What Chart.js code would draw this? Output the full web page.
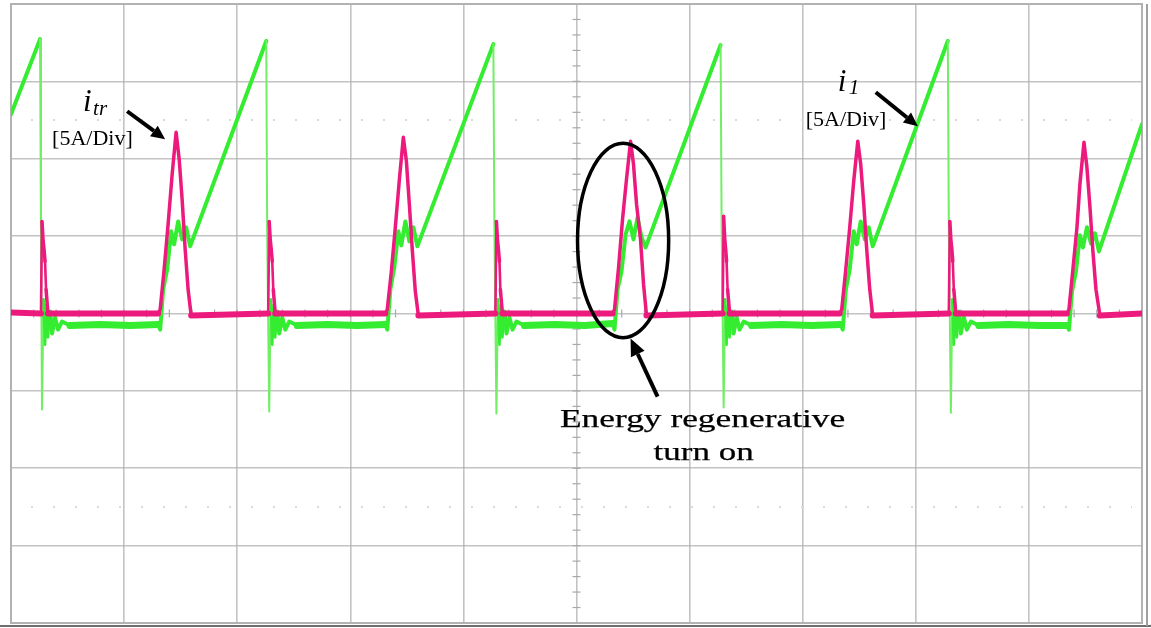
<!DOCTYPE html>
<html>
<head>
<meta charset="utf-8">
<script src="https://cdn.jsdelivr.net/npm/chart.js@4.4.0/dist/chart.umd.min.js"></script>
<style>
  html, body { margin: 0; padding: 0; background: #fff; }
  canvas { display: block; }
</style>
</head>
<body>
<canvas id="scope" width="1151" height="628"></canvas>
<script>
// i1 (green): time in divisions, current in A (5 A/div)
const i1Time = [
  0, 0.257,
  0.265, 0.274, 0.288, 0.301, 0.314, 0.327, 0.345, 0.363, 0.389, 0.416, 0.451, 0.522, 0.788, 1.053, 1.301,
  1.319, 1.345, 1.381, 1.416, 1.442, 1.478, 1.513, 1.549, 1.584, 2.257,
  2.265, 2.283, 2.296, 2.310, 2.323, 2.336, 2.354, 2.372, 2.398, 2.425, 2.460, 2.531, 2.796, 3.062, 3.310,
  3.327, 3.354, 3.389, 3.425, 3.451, 3.487, 3.522, 3.558, 3.593, 4.265,
  4.274, 4.292, 4.305, 4.319, 4.332, 4.345, 4.363, 4.381, 4.407, 4.434, 4.469, 4.540, 4.805, 5.071, 5.319,
  5.336, 5.363, 5.398, 5.434, 5.469, 5.504, 5.540, 5.575, 5.611, 6.274,
  6.283, 6.301, 6.314, 6.327, 6.341, 6.354, 6.372, 6.389, 6.416, 6.442, 6.478, 6.549, 6.814, 7.080, 7.336,
  7.354, 7.381, 7.416, 7.451, 7.478, 7.513, 7.549, 7.584, 7.619, 8.283,
  8.292, 8.310, 8.323, 8.336, 8.350, 8.363, 8.381, 8.398, 8.425, 8.451, 8.487, 8.558, 8.823, 9.088, 9.336,
  9.354, 9.381, 9.416, 9.451, 9.478, 9.513, 9.549, 9.584, 9.619, 10.0
];
const i1Amp = [
  12.88, 17.73,
  5.44, -6.21, 0.91, -2.01, 0.58, -1.55, 0.13, -1.29, -0.26, -1.04, -0.52, -0.78, -0.71, -0.78, -0.71,
  -1.04, 1.55, 2.85, 5.31, 4.47, 5.95, 4.79, 5.57, 4.34, 17.61,
  5.31, -6.34, 0.91, -2.01, 0.58, -1.55, 0.13, -1.29, -0.26, -1.04, -0.52, -0.78, -0.71, -0.78, -0.71,
  -1.04, 1.55, 2.98, 5.31, 4.40, 5.95, 4.66, 5.57, 4.34, 17.41,
  5.57, -6.47, 0.91, -2.01, 0.58, -1.55, 0.13, -1.29, -0.26, -1.04, -0.52, -0.78, -0.71, -0.78, -0.65,
  -1.04, 1.55, 2.72, 5.11, 5.95, 4.79, 6.21, 4.92, 4.27, 17.35,
  5.76, -6.08, 0.91, -2.01, 0.58, -1.55, 0.13, -1.29, -0.26, -1.04, -0.52, -0.78, -0.71, -0.78, -0.71,
  -1.04, 1.55, 2.85, 5.31, 4.47, 5.95, 4.79, 5.57, 4.34, 17.61,
  5.57, -6.41, 0.91, -2.01, 0.58, -1.55, 0.13, -1.29, -0.26, -1.04, -0.52, -0.78, -0.71, -0.78, -0.78,
  -1.04, 1.42, 2.72, 5.05, 4.27, 5.57, 4.53, 5.18, 4.01, 12.23
];

// itr (pink)
const itrTime = [
  0, 0.265, 0.274, 0.283, 0.292, 0.301, 0.310, 0.327,
  1.301, 1.319, 1.354, 1.389, 1.425, 1.460, 1.487, 1.513, 1.540, 1.566, 1.593,
  2.274, 2.283, 2.292, 2.301, 2.310, 2.319, 2.336,
  3.310, 3.327, 3.363, 3.398, 3.434, 3.469, 3.496, 3.522, 3.549, 3.575, 3.602,
  4.283, 4.292, 4.301, 4.310, 4.319, 4.327, 4.345,
  5.319, 5.336, 5.372, 5.407, 5.442, 5.478, 5.504, 5.531, 5.566, 5.593, 5.619,
  6.292, 6.301, 6.310, 6.319, 6.327, 6.336, 6.354,
  7.327, 7.345, 7.381, 7.416, 7.451, 7.487, 7.513, 7.540, 7.566, 7.593, 7.619,
  8.292, 8.301, 8.310, 8.319, 8.327, 8.336, 8.354,
  9.336, 9.354, 9.389, 9.425, 9.451, 9.487, 9.513, 9.540, 9.566, 9.593, 9.628, 10.0
];
const itrAmp = [
  0.06, 0, 5.95, 4.79, 4.14, 3.37, 1.55, 0,
  0, 0.26, 2.85, 5.76, 9.00, 11.72, 9.97, 7.38, 4.14, 1.55, -0.13,
  0, 5.95, 4.79, 4.14, 3.37, 1.55, 0,
  0, 0.26, 2.72, 5.57, 8.67, 11.39, 9.84, 7.06, 4.01, 1.42, -0.13,
  0, 5.95, 4.79, 4.14, 3.37, 1.55, 0,
  0, 0.26, 2.98, 6.08, 8.67, 11.13, 9.64, 7.06, 4.79, 1.88, -0.13,
  0, 6.28, 4.92, 4.14, 3.37, 1.55, 0,
  0, 0.26, 2.85, 5.57, 8.54, 11.13, 9.64, 7.06, 4.14, 1.55, -0.13,
  0, 5.95, 4.79, 4.14, 3.37, 1.55, 0,
  0, 0.26, 2.85, 5.57, 8.35, 11.07, 9.45, 6.86, 4.01, 1.55, -0.13, 0
];

const GREEN = 'rgb(52,236,48)';
const GREEN_EDGE = 'rgb(112,238,100)';
const PINK = 'rgb(236,26,124)';
const SERIF = '"Liberation Serif", "Times New Roman", serif';

// flat stretches are noisy on the scope, the big switching edges are thin
function traceWidth(normal, flat, edge) {
  return ctx => {
    const dx = Math.abs(ctx.p1.x - ctx.p0.x), dy = Math.abs(ctx.p1.y - ctx.p0.y);
    if (dx > 15 && dy < dx * 0.15) return flat;
    if (dx < 2.5 && dy > 100) return edge;
    if (dx < 2.5 && dy > 25) return 2.6;
    return normal;
  };
}

const scopeFrame = {
  id: 'scopeFrame',
  beforeDatasetsDraw(chart) {
    const { ctx, chartArea: a, scales: { x, y } } = chart;
    const cx = x.getPixelForValue(5), cy = y.getPixelForValue(0);
    ctx.save();
    // faint cursor dot rows
    ctx.strokeStyle = '#dadada';
    ctx.lineWidth = 2;
    ctx.setLineDash([2, 20]);
    [12.5, -12.5].forEach(v => {
      const py = y.getPixelForValue(v);
      ctx.beginPath(); ctx.moveTo(a.left + 20, py); ctx.lineTo(a.right - 10, py); ctx.stroke();
    });
    ctx.setLineDash([]);
    // minor ticks on the centre crosshair
    ctx.strokeStyle = '#a8a8a8';
    ctx.lineWidth = 1.2;
    for (let v = -20; v <= 20; v += 1) {
      const py = y.getPixelForValue(v);
      ctx.beginPath(); ctx.moveTo(cx - 4, py); ctx.lineTo(cx + 4, py); ctx.stroke();
    }
    for (let v = 0; v <= 10.001; v += 0.2) {
      const px = x.getPixelForValue(v);
      ctx.beginPath(); ctx.moveTo(px, cy - 4); ctx.lineTo(px, cy + 4); ctx.stroke();
    }
    // screen frame
    ctx.strokeStyle = '#b2b2b2';
    ctx.lineWidth = 2;
    ctx.strokeRect(a.left, a.top, a.right - a.left, a.bottom - a.top);
    ctx.strokeStyle = '#6e6e6e';
    ctx.beginPath(); ctx.moveTo(0, a.bottom + 3); ctx.lineTo(chart.width, a.bottom + 3); ctx.stroke();
    ctx.strokeStyle = '#a0a0a0';
    ctx.beginPath(); ctx.moveTo(a.right + 5, a.top); ctx.lineTo(a.right + 5, a.bottom + 3); ctx.stroke();
    ctx.restore();
  }
};

function arrow(ctx, x0, y0, x1, y1, head, half) {
  const ang = Math.atan2(y1 - y0, x1 - x0);
  const bx = x1 - head * Math.cos(ang), by = y1 - head * Math.sin(ang);
  ctx.lineWidth = 4;
  ctx.beginPath(); ctx.moveTo(x0, y0); ctx.lineTo(bx, by); ctx.stroke();
  ctx.beginPath();
  ctx.moveTo(x1, y1);
  ctx.lineTo(bx + half * Math.sin(ang), by - half * Math.cos(ang));
  ctx.lineTo(bx - half * Math.sin(ang), by + half * Math.cos(ang));
  ctx.closePath(); ctx.fill();
}

function label(ctx, str, px, py, font) {
  ctx.font = font;
  ctx.fillText(str, px, py);
}

// the caption is set wide, so stretch it to its measured width
function wideText(ctx, str, px, py, font, width) {
  ctx.save();
  ctx.font = font;
  const sx = width / ctx.measureText(str).width;
  ctx.translate(px, py); ctx.scale(sx, 1);
  ctx.textAlign = 'center';
  ctx.lineWidth = 0.25;
  ctx.fillText(str, 0, 0);
  ctx.strokeText(str, 0, 0);
  ctx.restore();
}

const notes = {
  id: 'notes',
  afterDatasetsDraw(chart) {
    const { ctx, scales: { x, y } } = chart;
    const X = v => x.getPixelForValue(v), Y = v => y.getPixelForValue(v);
    ctx.save();
    ctx.fillStyle = '#000';
    ctx.strokeStyle = '#000';
    ctx.textBaseline = 'alphabetic';

    // itr label
    label(ctx, 'i', X(0.637), Y(13.07), 'italic 31px ' + SERIF);
    label(ctx, 'tr', X(0.726), Y(12.82), 'italic 21px ' + SERIF);
    label(ctx, '[5A/Div]', X(0.363), Y(10.87), '22px ' + SERIF);
    arrow(ctx, X(1.027), Y(13.07), X(1.363), Y(11.26), 14, 6.5);

    // i1 label
    label(ctx, 'i', X(7.310), Y(14.37), 'italic 31px ' + SERIF);
    label(ctx, '1', X(7.407), Y(14.17), 'italic 21px ' + SERIF);
    label(ctx, '[5A/Div]', X(7.027), Y(12.10), '22px ' + SERIF);
    arrow(ctx, X(7.646), Y(14.30), X(8.018), Y(12.10), 14, 6.5);

    // regenerative turn-on marker
    ctx.lineWidth = 3.5;
    ctx.beginPath();
    ctx.ellipse(X(5.412), Y(4.72), X(5.815) - X(5.412), Y(-1.56) - Y(4.72), 0, 0, Math.PI * 2);
    ctx.stroke();
    arrow(ctx, X(5.717), Y(-5.37), X(5.478), Y(-1.62), 17, 7.5);
    wideText(ctx, 'Energy regenerative', X(6.115), Y(-7.31), '25px ' + SERIF, X(2.522) - X(0));
    wideText(ctx, 'turn on', X(6.124), Y(-9.45), '25px ' + SERIF, X(0.885) - X(0));
    ctx.restore();
  }
};

const gridStyle = { color: 'rgba(175,175,175,0.75)', lineWidth: 1.6, drawTicks: false };

new Chart(document.getElementById('scope'), {
  type: 'line',
  data: {
    datasets: [
      {
        label: 'itr',
        data: itrTime.map((t, k) => ({ x: t, y: itrAmp[k] })),
        borderColor: PINK,
        borderWidth: 3.5,
        borderCapStyle: 'round',
        borderJoinStyle: 'round',
        pointRadius: 0,
        tension: 0,
        order: 0,
        segment: { borderWidth: traceWidth(3.5, 6, 2.6) }
      },
      {
        label: 'i1',
        data: i1Time.map((t, k) => ({ x: t, y: i1Amp[k] })),
        borderColor: GREEN,
        borderWidth: 4,
        borderCapStyle: 'round',
        borderJoinStyle: 'round',
        pointRadius: 0,
        tension: 0,
        order: 1,
        segment: {
          borderWidth: traceWidth(4, 7, 2),
          borderColor: ctx => (Math.abs(ctx.p1.y - ctx.p0.y) > 100 && Math.abs(ctx.p1.x - ctx.p0.x) < 2.5 ? GREEN_EDGE : GREEN)
        }
      }
    ]
  },
  options: {
    responsive: false,
    devicePixelRatio: 1,
    animation: false,
    layout: { padding: { left: 11, right: 9, top: 4, bottom: 5 } },
    plugins: { legend: { display: false }, tooltip: { enabled: false } },
    scales: {
      x: {
        type: 'linear', min: 0, max: 10,
        ticks: { display: false, stepSize: 1 },
        grid: gridStyle,
        border: { display: false }
      },
      y: {
        min: -20, max: 20,
        ticks: { display: false, stepSize: 5 },
        grid: gridStyle,
        border: { display: false }
      }
    }
  },
  plugins: [scopeFrame, notes]
});
</script>
</body>
</html>
